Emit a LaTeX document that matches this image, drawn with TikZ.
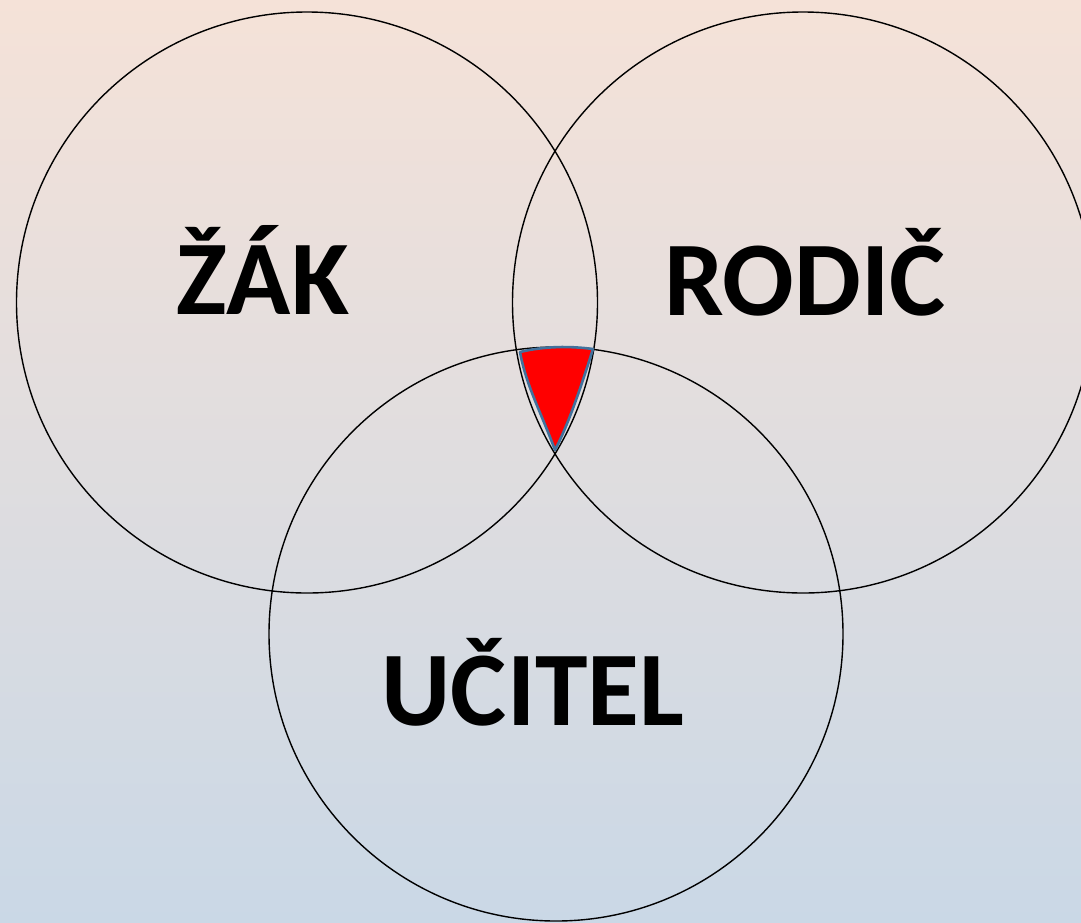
\documentclass[tikz,border=0pt]{standalone}
\usepackage{fontspec}
\setmainfont{Carlito}
\begin{document}
\begin{tikzpicture}[x=1pt,y=-1pt,
  ring/.style={draw=black,line width=1.4pt},
  label/.style={font=\fontsize{106}{110}\selectfont\bfseries,anchor=base,inner sep=0pt},
  core/.style={fill=red,draw={rgb,255:red,65;green,113;blue,156},line width=2.6pt,line join=round}]
\definecolor{bgtop}{RGB}{245,226,216}
\definecolor{bgbot}{RGB}{202,216,230}
\shade[top color=bgtop,bottom color=bgbot] (0,0) rectangle (1081,922);
\useasboundingbox (0,0) rectangle (1081,922);
\begin{scope}
\clip (0,0) rectangle (1081,922);
\node[circle,ring,minimum size=581pt,inner sep=0pt] (zak) at (307,302.5) {};
\node[circle,ring,minimum size=581pt,inner sep=0pt] (rodic) at (803,302.5) {};
\node[circle,ring,minimum size=574pt,inner sep=0pt] (ucitel) at (556,634) {};
\end{scope}
\coordinate (p1) at (520,352);
\coordinate (p2) at (593,349);
\coordinate (p3) at (555,450);
\draw[core] (p1) .. controls (545,346) and (570,346) .. (p2)
  .. controls (580,390) and (568,425) .. (p3)
  .. controls (540,410) and (526,385) .. cycle;
\node[label] (tzak) at (263,314) {ŽÁK};
\node[label] (trodic) at (805,315) {RODIČ};
\node[label] (tucitel) at (533,725) {UČITEL};
\end{tikzpicture}
\end{document}
